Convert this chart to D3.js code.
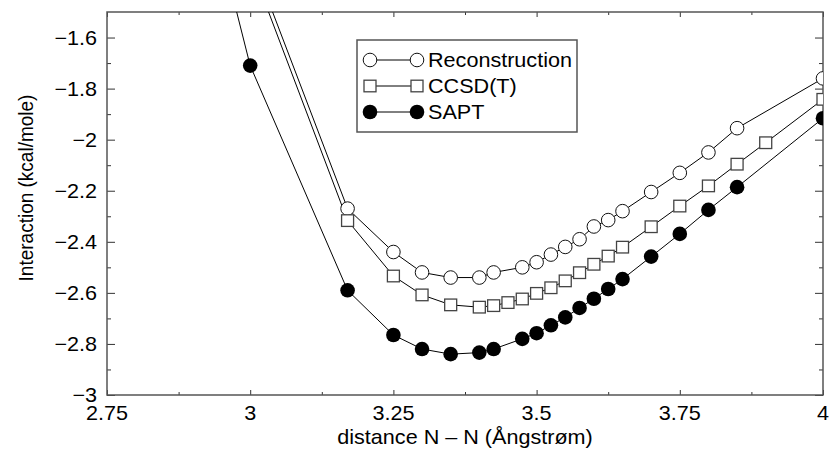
<!DOCTYPE html>
<html>
<head>
<meta charset="utf-8">
<script src="https://cdn.jsdelivr.net/npm/d3@7"></script>
<style>
  body { margin: 0; background: #fff; }
  svg { display: block; }
  text { font-family: "Liberation Sans", Arial, Helvetica, sans-serif; fill: #000; }
</style>
</head>
<body>
<svg id="chart" width="829" height="450"></svg>
<script>
// distances (Angstrom) and interaction energies (kcal/mole)
const reconX = [3.0, 3.17, 3.25, 3.3, 3.35, 3.4, 3.425, 3.475, 3.5, 3.525, 3.55, 3.575, 3.6, 3.625, 3.65, 3.7, 3.75, 3.8, 3.85, 4.0];
const reconY = [-1.27, -2.27, -2.44, -2.52, -2.54, -2.54, -2.52, -2.50, -2.48, -2.45, -2.42, -2.39, -2.34, -2.315, -2.28, -2.205, -2.13, -2.05, -1.955, -1.76];

const ccsdX = [3.0, 3.17, 3.25, 3.3, 3.35, 3.4, 3.425, 3.45, 3.475, 3.5, 3.525, 3.55, 3.575, 3.6, 3.625, 3.65, 3.7, 3.75, 3.8, 3.85, 3.9, 4.0];
const ccsdY = [-1.31, -2.317, -2.534, -2.608, -2.647, -2.656, -2.65, -2.638, -2.624, -2.602, -2.58, -2.553, -2.521, -2.488, -2.456, -2.421, -2.341, -2.26, -2.181, -2.096, -2.012, -1.842];

const saptX = [2.9, 3.0, 3.17, 3.25, 3.3, 3.35, 3.4, 3.425, 3.475, 3.5, 3.525, 3.55, 3.575, 3.6, 3.625, 3.65, 3.7, 3.75, 3.8, 3.85, 4.0];
const saptY = [-0.82, -1.71, -2.59, -2.765, -2.82, -2.84, -2.834, -2.82, -2.78, -2.758, -2.727, -2.696, -2.659, -2.623, -2.585, -2.546, -2.458, -2.369, -2.275, -2.186, -1.916];

const seriesNames = ['Reconstruction', 'CCSD(T)', 'SAPT'];

const xTicks = [2.75, 3, 3.25, 3.5, 3.75, 4];
const xMinor = [2.875, 3.125, 3.375, 3.625, 3.875];
const yTicks = [-3, -2.8, -2.6, -2.4, -2.2, -2, -1.8, -1.6];
const yMinor = [-2.9, -2.7, -2.5, -2.3, -2.1, -1.9, -1.7];

const SX = 1.08; // the original is a bit wider than tall

function fmt(v) {
    return String(+v.toFixed(2)).replace('-', '\u2212');
}

function zip(xs, ys) {
    let out = [];
    for (let i = 0; i < xs.length; i++) {
        out.push({x: xs[i], y: ys[i]});
    }
    return out;
}

function drawChart() {
    let svg = d3.select('#chart');

    let left = 107, right = 823, top = 12, bottom = 395;

    let x = d3.scaleLinear().domain([2.75, 4]).range([left, right]);
    let y = d3.scaleLinear().domain([-3, -1.5]).range([bottom, top]);

    svg.append('defs').append('clipPath').attr('id', 'plotclip')
        .append('rect')
        .attr('x', left).attr('y', top)
        .attr('width', right - left).attr('height', bottom - top);

    // ticks on all four sides, pointing inward
    function tickAxis(axis, tr) {
        let g = svg.append('g').attr('transform', tr).call(axis);
        g.select('.domain').remove();
        g.selectAll('line').attr('stroke', '#333').attr('stroke-width', 1);
        g.selectAll('text').remove();
    }
    tickAxis(d3.axisBottom(x).tickValues(xTicks).tickSize(-5), `translate(0,${bottom})`);
    tickAxis(d3.axisBottom(x).tickValues(xMinor).tickSize(-3), `translate(0,${bottom})`);
    tickAxis(d3.axisTop(x).tickValues(xTicks).tickSize(-5), `translate(0,${top})`);
    tickAxis(d3.axisTop(x).tickValues(xMinor).tickSize(-3), `translate(0,${top})`);
    tickAxis(d3.axisLeft(y).tickValues(yTicks).tickSize(-8), `translate(${left},0)`);
    tickAxis(d3.axisLeft(y).tickValues(yMinor).tickSize(-4), `translate(${left},0)`);
    tickAxis(d3.axisRight(y).tickValues(yTicks).tickSize(-8), `translate(${right},0)`);
    tickAxis(d3.axisRight(y).tickValues(yMinor).tickSize(-4), `translate(${right},0)`);

    svg.append('rect')
        .attr('x', left).attr('y', top)
        .attr('width', right - left).attr('height', bottom - top)
        .attr('fill', 'none').attr('stroke', '#555').attr('stroke-width', 1.5);

    // tick labels
    svg.append('g').selectAll('text').data(yTicks).enter().append('text')
        .attr('transform', d => `translate(97,${y(d) + 7}) scale(${SX},1)`)
        .attr('text-anchor', 'end')
        .style('font-size', '20px')
        .text(fmt);

    svg.append('g').selectAll('text').data(xTicks).enter().append('text')
        .attr('transform', d => `translate(${x(d)},${bottom + 25}) scale(${SX},1)`)
        .attr('text-anchor', 'middle')
        .style('font-size', '20px')
        .text(fmt);

    svg.append('text')
        .attr('transform', `translate(${(left + right) / 2},444) scale(${SX},1)`)
        .attr('text-anchor', 'middle')
        .style('font-size', '20px')
        .text('distance N \u2013 N (\u00c5ngstr\u00f8m)');

    svg.append('text')
        .attr('transform', `translate(33,188) scale(${SX},1) rotate(-90)`)
        .attr('text-anchor', 'middle')
        .style('font-size', '19px')
        .text('Interaction (kcal/mole)');

    let line = d3.line()
        .x(d => x(d.x))
        .y(d => y(d.y));

    let plot = svg.append('g').attr('clip-path', 'url(#plotclip)');

    let series = [zip(reconX, reconY), zip(ccsdX, ccsdY), zip(saptX, saptY)];

    series.forEach(function (pts) {
        plot.append('path')
            .datum(pts)
            .attr('d', line)
            .attr('fill', 'none')
            .attr('stroke', '#000')
            .attr('stroke-width', 1);
    });

    function marker(g, kind, cx, cy) {
        if (kind === 0) {
            g.append('circle').attr('cx', cx).attr('cy', cy).attr('r', 6.8)
                .attr('fill', '#fff').attr('stroke', '#111').attr('stroke-width', 1);
        }
        else if (kind === 1) {
            g.append('rect').attr('x', cx - 6).attr('y', cy - 5.8).attr('width', 12).attr('height', 11.6)
                .attr('fill', '#fff').attr('stroke', '#444').attr('stroke-width', 1.3);
        }
        else {
            g.append('circle').attr('cx', cx).attr('cy', cy).attr('r', 7.3)
                .attr('fill', '#000');
        }
    }

    series.forEach(function (pts, k) {
        pts.forEach(function (d) {
            marker(plot, k, x(d.x), y(d.y));
        });
    });

    // legend
    let lg = svg.append('g');
    lg.append('rect')
        .attr('x', 357).attr('y', 40).attr('width', 220).attr('height', 92)
        .attr('fill', '#fff').attr('stroke', '#555').attr('stroke-width', 1.5);

    seriesNames.forEach(function (name, k) {
        let ly = 60 + k * 26;
        lg.append('line')
            .attr('x1', 370).attr('x2', 417).attr('y1', ly).attr('y2', ly)
            .attr('stroke', '#000').attr('stroke-width', 1);
        marker(lg, k, 370, ly);
        marker(lg, k, 417, ly);
        lg.append('text')
            .attr('transform', `translate(428,${ly + 7}) scale(${SX},1)`)
            .style('font-size', '20px')
            .text(name);
    });
}

drawChart();
</script>
</body>
</html>
